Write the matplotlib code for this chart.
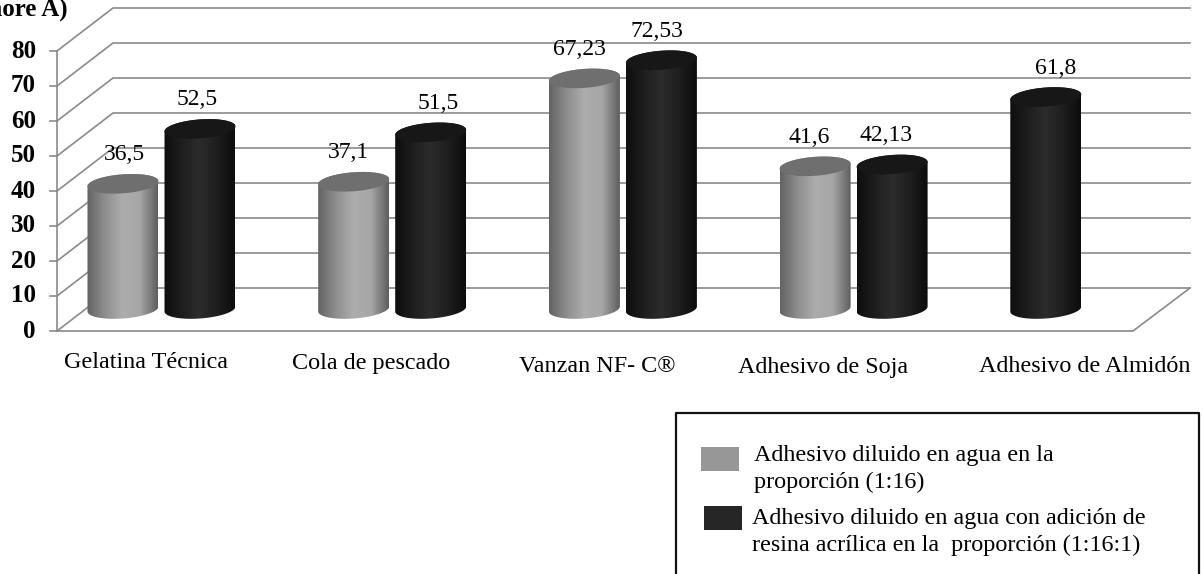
import matplotlib
matplotlib.use("Agg")
import matplotlib.pyplot as plt
import numpy as np
from matplotlib.patches import Polygon, Rectangle
from matplotlib.colors import LinearSegmentedColormap

# datos
categories = ["Gelatina Técnica", "Cola de pescado", "Vanzan NF- C®", "Adhesivo de Soja", "Adhesivo de Almidón"]
diluted = [36.5, 37.1, 67.23, 41.6, None]
with_resin = [52.5, 51.5, 72.53, 42.13, 61.8]
diluted_labels = ["36,5", "37,1", "67,23", "41,6", None]
resin_labels = ["52,5", "51,5", "72,53", "42,13", "61,8"]
y_ticks = [0, 10, 20, 30, 40, 50, 60, 70, 80]
legend_gray = "Adhesivo diluido en agua en la\nproporción (1:16)"
legend_black = "Adhesivo diluido en agua con adición de\nresina acrílica en la  proporción (1:16:1)"

# escala en pixeles de la figura original
W, H = 1203, 574
PX_CAT = 230.7
PX_VAL = 3.5
CAT0 = 161.5
BASE = 309
TOP_SCALE = 0.98
SERIF = "Liberation Serif"
GRID = "#8a8a8a"

# ajustes finos de las etiquetas (pixeles)
cat_label_x = [146, 371, 597, 823, 1085]
cat_label_y = [363, 363, 366, 368, 367]
gray_label_dx = [1, -5, -5, -6, 0]
black_label_dx = [-3, 7, -4, -6, 10]
# en Almidon el cilindro negro ocupa el hueco del gris
black_slot = [38.5, 38.5, 38.5, 38.5, -38.5]

gray_map = LinearSegmentedColormap.from_list("g", ["#636363", "#8e8e8e", "#adadad", "#a6a6a6", "#5e5e5e"])
black_map = LinearSegmentedColormap.from_list("k", ["#0e0e0e", "#1e1e1e", "#2c2c2c", "#1e1e1e", "#0c0c0c"])


def xd(px):
    return (px - CAT0) / PX_CAT


def yd(px):
    return (BASE - px) / PX_VAL


def ellipse_pts(cx, cy, t):
    # elipse algo inclinada: lado izquierdo mas bajo
    a, b, k = 35.5, 9.5, 2.5
    x = cx + a * np.cos(t) / PX_CAT
    y = cy + (b * np.sin(t) + k * np.cos(t)) / PX_VAL
    return np.column_stack([x, y])


def draw_cylinder(ax, cx, value, cmap, top_color):
    top = value * TOP_SCALE
    low = ellipse_pts(cx, 0, np.linspace(np.pi, 2 * np.pi, 50))
    up = ellipse_pts(cx, top, np.linspace(0, np.pi, 50))
    body = Polygon(np.vstack([low, up]), closed=True, transform=ax.transData, fc="none", ec="none")
    ax.add_patch(body)
    hw = 35.5 / PX_CAT
    grad = np.linspace(0, 1, 128).reshape(1, -1)
    im = ax.imshow(grad, cmap=cmap, aspect="auto", zorder=3,
                   extent=(cx - hw, cx + hw, -5, top + 5), vmin=0, vmax=1)
    im.set_clip_path(body)
    cap = ellipse_pts(cx, top, np.linspace(0, 2 * np.pi, 100))
    ax.add_patch(Polygon(cap, closed=True, fc=top_color, ec="none", zorder=4))


fig = plt.figure(figsize=(W / 100, H / 100), dpi=100)
ax = fig.add_axes([0, 0, 1, 1])
ax.axis("off")

# paredes y rejilla en perspectiva
front = xd(57)
back = xd(113)
end_back = xd(1190)
end_front = xd(1133)
y_front = yd(331)
y_back = yd(288)
for v in y_ticks:
    fy = y_front + v
    by = y_back + v
    ax.plot([front, back, end_back], [fy, by, by], color=GRID, lw=1.2, zorder=1)
    ax.plot([xd(50), front], [fy, fy], color=GRID, lw=1.2, zorder=1)
    ax.text(xd(36), fy, str(v), ha="right", va="center", family=SERIF, fontweight="bold", fontsize=18, color="black")
ax.plot([front, front], [y_front, y_front + 80], color=GRID, lw=1.2, zorder=1)
ax.plot([front, end_front, end_back], [y_front, y_front, y_back], color=GRID, lw=1.2, zorder=1)

# cilindros y etiquetas de valor
for i in range(len(categories)):
    if diluted[i] is not None:
        cx = i - 38.5 / PX_CAT
        draw_cylinder(ax, cx, diluted[i], gray_map, "#6f6f6f")
        ax.text(cx + gray_label_dx[i] / PX_CAT, diluted[i] * TOP_SCALE + 29 / PX_VAL, diluted_labels[i],
                ha="center", va="center", family=SERIF, fontsize=17, zorder=5)
    cx = i + black_slot[i] / PX_CAT
    draw_cylinder(ax, cx, with_resin[i], black_map, "#171717")
    ax.text(cx + black_label_dx[i] / PX_CAT, with_resin[i] * TOP_SCALE + 29 / PX_VAL, resin_labels[i],
            ha="center", va="center", family=SERIF, fontsize=17, zorder=5)
    ax.text(xd(cat_label_x[i]), yd(cat_label_y[i]), categories[i], ha="center", va="center",
            family=SERIF, fontsize=17.4)

ax.text(xd(68), yd(9), "(Shore A)", ha="right", va="center", family=SERIF, fontweight="bold", fontsize=18)

ax.set_xlim(xd(0), xd(W))
ax.set_ylim(yd(H), yd(0))

# leyenda: recuadro abierto por debajo (cortado en la figura original)
ax.plot([xd(676), xd(676), xd(1199), xd(1199)], [yd(H), yd(413), yd(413), yd(H)], color="#111111", lw=1.6, zorder=6)
ax.add_patch(Rectangle((xd(701), yd(471)), 38 / PX_CAT, 24 / PX_VAL, fc="#979797", ec="none", zorder=6))
ax.add_patch(Rectangle((xd(704), yd(530)), 38 / PX_CAT, 24 / PX_VAL, fc="#262626", ec="none", zorder=6))
ax.text(xd(754), yd(469), legend_gray, ha="left", va="center", family=SERIF, fontsize=17.4, linespacing=1.42)
ax.text(xd(752), yd(532), legend_black, ha="left", va="center", family=SERIF, fontsize=17.4, linespacing=1.42)

fig.savefig("out.png", dpi=100)
